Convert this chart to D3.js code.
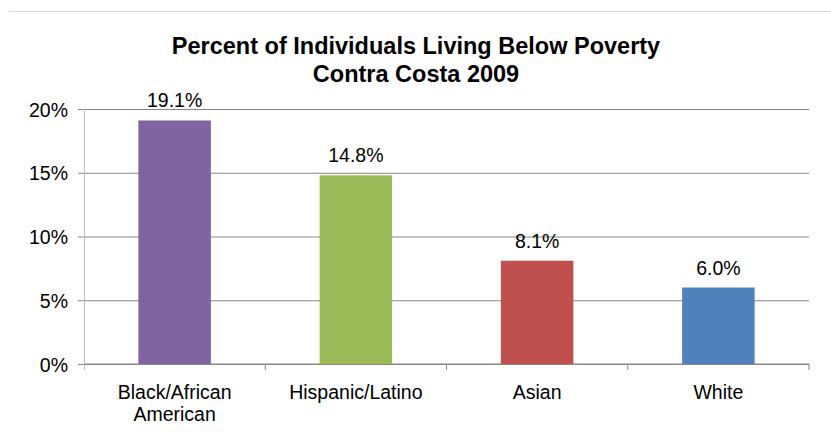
<!DOCTYPE html>
<html>
<head>
<meta charset="utf-8">
<script src="https://cdn.jsdelivr.net/npm/d3@7"></script>
<style>
  body { margin: 0; background: #fff; }
  text { font-family: "Liberation Sans", Arial, sans-serif; fill: #000; }
  .title { font-weight: bold; font-size: 23.5px; }
  .tick text { font-size: 19.5px; }
</style>
</head>
<body>
<svg id="chart" width="831" height="442"></svg>
<script>
var categories = ["Black/African American", "Hispanic/Latino", "Asian", "White"];
var values = [19.1, 14.8, 8.1, 6.0];
var colors = ["#8064A2", "#9BBB59", "#C0504D", "#4F81BD"];
var yTicks = [0, 5, 10, 15, 20];

var svg = d3.select("#chart");
var margin = {left: 84, right: 22, top: 109, bottom: 78};
var width = 831 - margin.left - margin.right,
    height = 442 - margin.top - margin.bottom;

// faint line along the top of the chart box
svg.append("line")
    .attr("x1", 9).attr("x2", 831)
    .attr("y1", 11.5).attr("y2", 11.5)
    .attr("stroke", "#d9d9d9");

svg.append("text").attr("class", "title")
    .attr("x", 416).attr("y", 54).attr("text-anchor", "middle")
    .text("Percent of Individuals Living Below Poverty");
svg.append("text").attr("class", "title")
    .attr("x", 416).attr("y", 82).attr("text-anchor", "middle")
    .text("Contra Costa 2009");

var chart = svg.append("g")
    .attr("transform", `translate(${margin.left}, ${margin.top})`);

var x = d3.scaleBand().domain(categories).range([0, width]).padding(0);
var y = d3.scaleLinear().domain([0, 20]).range([height, 0]);

// gridlines + left ticks
chart.append("g")
    .call(d3.axisLeft(y).tickValues(yTicks).tickFormat(d => d + "%").tickSize(-width))
    .call(g => g.select(".domain").remove())
    .call(g => g.selectAll(".tick line").attr("stroke", "#878787").attr("x1", -6))
    .call(g => g.selectAll(".tick text").attr("x", -16).attr("dy", "0.36em"));

// left axis line
chart.append("line")
    .attr("x1", 0.5).attr("x2", 0.5)
    .attr("y1", 0).attr("y2", height + 6)
    .attr("stroke", "#bfbfbf");

// bottom axis
var xAxis = chart.append("g").attr("transform", `translate(0, ${height})`);
xAxis.append("line").attr("x1", 0).attr("x2", width)
    .attr("stroke", "#878787");
xAxis.selectAll("line.sep")
    .data(d3.range(1, categories.length + 1))
    .join("line").attr("class", "sep")
    .attr("x1", i => i === categories.length ? width : x(categories[i]))
    .attr("x2", i => i === categories.length ? width : x(categories[i]))
    .attr("y1", 0).attr("y2", 6)
    .attr("stroke", "#878787");

xAxis.selectAll("text.cat")
    .data(categories)
    .join("text").attr("class", "cat")
    .attr("text-anchor", "middle")
    .style("font-size", "19.5px")
    .attr("transform", d => `translate(${x(d) + x.bandwidth() / 2}, 0)`)
    .each(function (d) {
        var lines = d === "Black/African American" ? ["Black/African", "American"] : [d];
        d3.select(this).selectAll("tspan").data(lines).join("tspan")
            .attr("x", 0).attr("y", (l, i) => 35 + i * 22).text(l => l);
    });

var barW = x.bandwidth() * 0.4;
chart.selectAll("rect.bar")
    .data(values)
    .join("rect").attr("class", "bar")
    .attr("x", (d, i) => x(categories[i]) + (x.bandwidth() - barW) / 2)
    .attr("y", d => y(d))
    .attr("width", barW)
    .attr("height", d => height - y(d))
    .attr("fill", (d, i) => colors[i]);

chart.selectAll("text.val")
    .data(values)
    .join("text").attr("class", "val")
    .attr("text-anchor", "middle")
    .style("font-size", "19.5px")
    .attr("x", (d, i) => x(categories[i]) + x.bandwidth() / 2)
    .attr("y", d => y(d) - 13)
    .text(d => d.toFixed(1) + "%");
</script>
</body>
</html>
